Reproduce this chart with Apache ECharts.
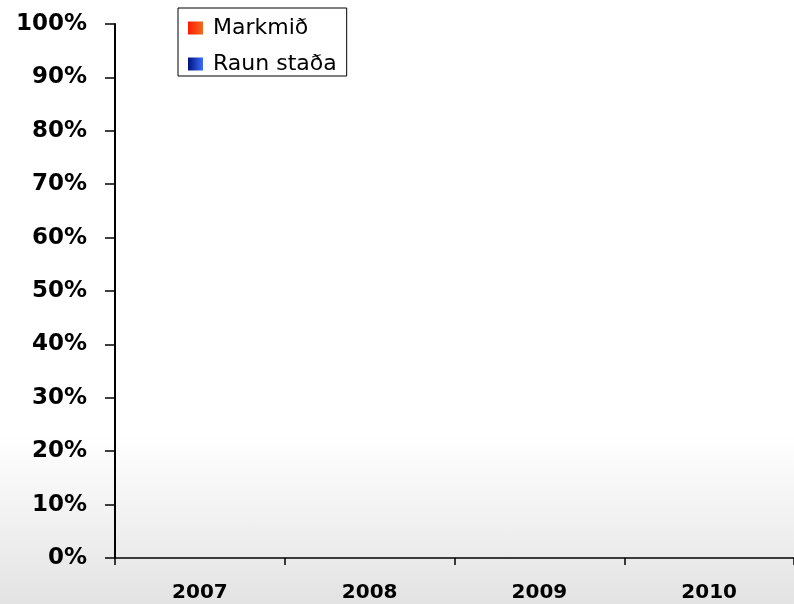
<!DOCTYPE html>
<html>
<head>
<meta charset="utf-8">
<script src="https://cdn.jsdelivr.net/npm/echarts@6/dist/echarts.min.js"></script>
<style>
html, body { margin: 0; padding: 0; }
body {
    width: 794px;
    height: 604px;
    background: linear-gradient(to bottom, #ffffff 0%, #ffffff 72%, #e3e3e3 100%);
}
#chart { width: 794px; height: 604px; }
</style>
</head>
<body>
<div id="chart"></div>
<script>
// kategoríur og gildi
var years = ["2007", "2008", "2009", "2010"];
var markmid = [null, null, null, null];
var raunStada = [null, null, null, null];
var yTicks = [0, 10, 20, 30, 40, 50, 60, 70, 80, 90, 100];

var chart = echarts.init(document.getElementById("chart"));
var option = {
    backgroundColor: "transparent",
    animation: false,
    grid: {
        left: 115,
        top: 24,
        width: 684,
        height: 534,
    },
    legend: {
        orient: "vertical",
        left: 178,
        top: 8,
        padding: [9, 10, 1, 10],
        itemGap: 14,
        itemWidth: 15,
        itemHeight: 13,
        backgroundColor: "#fff",
        borderColor: "#000",
        borderWidth: 1,
        borderRadius: 0,
        icon: "rect",
        textStyle: {
            color: "#000",
            fontFamily: "DejaVu Sans",
            fontSize: 22,
            lineHeight: 22,
            padding: [0, 0, 0, 5],
        },
        data: ["Markmið", "Raun staða"],
    },
    xAxis: {
        type: "category",
        data: years,
        boundaryGap: true,
        axisLine: { lineStyle: { color: "#000", width: 1.5 } },
        axisTick: { show: true, length: 7, lineStyle: { color: "#000", width: 1.5 } },
        axisLabel: {
            margin: 25,
            color: "#000",
            fontFamily: "DejaVu Sans",
            fontWeight: "bold",
            fontSize: 20,
        },
        splitLine: { show: false },
    },
    yAxis: {
        type: "value",
        min: yTicks[0],
        max: yTicks[yTicks.length - 1],
        interval: 10,
        axisLine: { show: true, lineStyle: { color: "#000", width: 2 } },
        axisTick: { show: true, length: 10, lineStyle: { color: "#000", width: 1.5 } },
        axisLabel: {
            margin: 28,
            formatter: "{value}%",
            color: "#000",
            fontFamily: "DejaVu Sans",
            fontWeight: "bold",
            fontSize: 23,
        },
        splitLine: { show: false },
    },
    series: [
        {
            name: "Markmið",
            type: "bar",
            data: markmid,
            itemStyle: {
                color: {
                    type: "linear", x: 0, y: 0, x2: 1, y2: 0,
                    colorStops: [
                        { offset: 0, color: "#ff1a00" },
                        { offset: 1, color: "#f06a1e" },
                    ],
                },
            },
        },
        {
            name: "Raun staða",
            type: "bar",
            data: raunStada,
            itemStyle: {
                color: {
                    type: "linear", x: 0, y: 0, x2: 1, y2: 0,
                    colorStops: [
                        { offset: 0, color: "#00127a" },
                        { offset: 1, color: "#3a6cff" },
                    ],
                },
            },
        },
    ],
};
chart.setOption(option);
</script>
</body>
</html>
